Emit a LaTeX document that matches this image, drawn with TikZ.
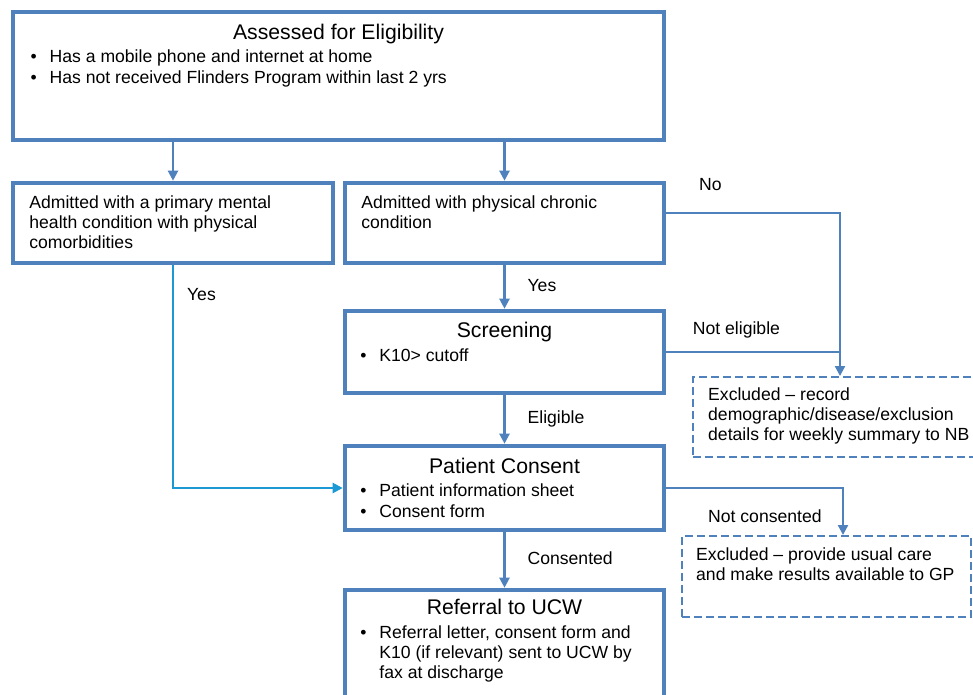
\documentclass[tikz,border=0pt]{standalone}
\usepackage{fontspec}
\setmainfont{Liberation Sans}
\usetikzlibrary{arrows.meta,calc}
\definecolor{boxblue}{RGB}{79,129,189}
\definecolor{yesblue}{RGB}{28,152,212}
\newcommand{\bodyfont}{\fontsize{17.6}{20.3}\selectfont}
\newcommand{\headfont}{\fontsize{21.2}{24}\selectfont}
\newcommand{\txtlines}[1]{\begin{tabular}[t]{@{}l@{}}#1\end{tabular}}
\newcommand{\itm}{\makebox[19pt][l]{\textbullet}}
% name, style, x1, y1, x2, y2 (centre of the border)
\newcommand{\panel}[6]{
\node[#2, minimum width={#5-#3}, minimum height={#6-#4}] (#1) at ({(#3+#5)/2},{(#4+#6)/2}) {};
}
\tikzset{
  box/.style={draw=boxblue, line width=4.6pt, inner sep=0pt},
  exbox/.style={draw=boxblue, line width=2pt, dash pattern=on 8pt off 4pt, inner sep=0pt},
  head/.style={font=\headfont, anchor=base, inner sep=0pt},
  txt/.style={font=\bodyfont, anchor=base west, inner sep=0pt},
  lbl/.style={font=\bodyfont, inner sep=0pt, text height=12.6pt, text depth=3.7pt},
  link/.style={draw=boxblue, line width=2.2pt},
  arr/.style={link, -{Triangle[length=10pt,width=10pt]}},
}

\begin{document}
\begin{tikzpicture}[x=1pt,y=-1pt]
\useasboundingbox (0,0) rectangle (973,694);
\panel{elig}{box}{13}{12}{664}{140}
\panel{mental}{box}{13}{183}{333}{263}
\panel{physical}{box}{345}{183}{664}{263}
\panel{screen}{box}{345}{311}{664}{393}
\panel{consent}{box}{345}{446}{664}{530}
\panel{referral}{box}{345}{590}{664}{720}
\panel{exclA}{exbox}{693}{377}{990}{457}
\panel{exclB}{exbox}{682}{536}{971}{617}

\node[head] (eligt) at ($(elig.north)+(0,30.25)$) {Assessed for Eligibility};
\node[txt] (eligl) at ($(elig.north west)+(19.75,53.25)$) {\txtlines{\itm Has a mobile phone and internet at home\\
  \itm Has not received Flinders Program within last 2 yrs}};
\node[txt] (mentalt) at ($(mental.north west)+(18.5,27.5)$) {\txtlines{Admitted with a primary mental\\
  health condition with physical\\ comorbidities}};
\node[txt] (physicalt) at ($(physical.north west)+(18.5,27.5)$) {\txtlines{Admitted with physical chronic\\ condition}};
\node[head] (screent) at ($(screen.north)+(0,29.25)$) {Screening};
\node[txt] (screenl) at ($(screen.north west)+(17.5,52.75)$) {\txtlines{\itm K10> cutoff}};
\node[head] (consentt) at ($(consent.north)+(0,29.5)$) {Patient Consent};
\node[txt] (consentl) at ($(consent.north west)+(17.5,53)$) {\txtlines{\itm Patient information sheet\\
  \itm Consent form}};
\node[head] (referralt) at ($(referral.north)+(0,27.25)$) {Referral to UCW};
\node[txt] (referrall) at ($(referral.north west)+(17.5,50.5)$) {\txtlines{\itm Referral letter, consent form and\\
  \hspace{19pt}K10 (if relevant) sent to UCW by\\ \hspace{19pt}fax at discharge}};
\node[txt] (exclAt) at ($(exclA.north west)+(16,24)$) {\txtlines{Excluded -- record\\
  demographic/disease/exclusion\\ details for weekly summary to NB}};
\node[txt] (exclBt) at ($(exclB.north west)+(15,25)$) {\txtlines{Excluded -- provide usual care\\
  and make results available to GP}};

\draw[arr] (elig.south -| mental.north) -- (mental.north);
\draw[arr] (elig.south -| physical.north) -- (physical.north);
\draw[arr] (physical.south) -- node[lbl, anchor=west, xshift=22pt] (yesB) {Yes} (screen.north);
\draw[arr] (screen.south) -- node[lbl, anchor=west, xshift=22pt] (eliglbl) {Eligible} (consent.north);
\draw[arr] (consent.south) -- node[lbl, anchor=west, xshift=22pt] (conslbl) {Consented} (referral.north);
\draw[arr, draw=yesblue] (mental.south) -- node[lbl, pos=.14, anchor=west, xshift=13pt] (yesA) {Yes}
  (mental.south |- consent.west) -- (consent.west);

\coordinate (noturn) at (840,213);
\draw[arr] (physical.east |- noturn) -- node[lbl, pos=0, anchor=base west, xshift=31.75pt, yshift=22.3pt] (nolbl) {No}
  (noturn) -- (noturn |- exclA.north);
\draw[link] (screen.east) -- node[lbl, pos=0, anchor=base west, xshift=25.5pt, yshift=18pt] (nelbl) {Not eligible}
  (screen.east -| noturn);
\coordinate (ncturn) at (843,488);
\draw[arr] (consent.east) -- node[lbl, pos=0, anchor=base west, xshift=40.75pt, yshift=-34pt] (nclbl) {Not consented}
  (ncturn) -- (ncturn |- exclB.north);
\end{tikzpicture}
\end{document}
